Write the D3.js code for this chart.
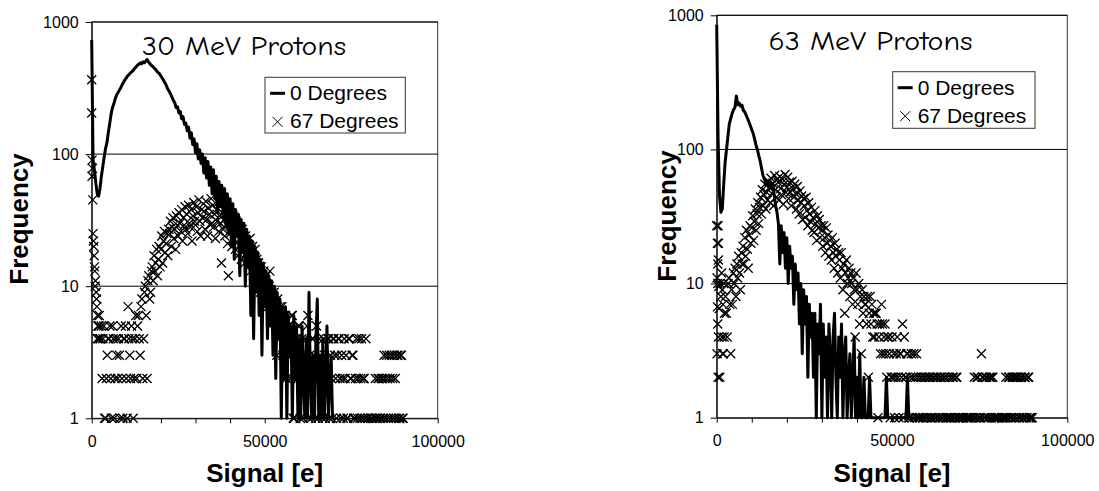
<!DOCTYPE html>
<meta charset="utf-8">
<script src="https://d3js.org/d3.v7.min.js"></script>
<style>
  body { margin: 0; background: #fff; }
  text { font-family: Arial, "Liberation Sans", sans-serif; fill: #000; }
</style>
<div id="chart"></div>
<script>
  // ---- data ----
  var titles = ["30 MeV Protons", "63 MeV Protons"]
  var seriesNames = ["0 Degrees", "67 Degrees"]
  var xTicks = [0, 10000, 20000, 30000, 40000, 50000, 60000, 70000, 80000, 90000, 100000]
  var xTickLabels = [0, 50000, 100000]
  var yTicks = [1, 10, 100, 1000]

  var lineBin = 400      // signal width of one bin, 0 Degrees
  var scatBin = 250      // signal width of one bin, 67 Degrees
  var scatStart = 2500   // first binned 67 Degrees point

  // 0 Degrees, 30 MeV (bins from 0)
  var line30 = [730,90,75,60,50,48,55,68,80,95,
    110,122,145,170,200,225,240,262,280,292,
    305,318,335,350,365,378,392,400,412,420,
    430,445,455,470,478,490,482,500,492,505,
    520,498,485,470,462,450,440,425,415,405,
    390,375,360,345,330,310,300,285,270,255,
    245,225,228,205,210,185,192,168,172,150,
    160,132,145,118,130,102,120,92,108,85,
    100,72,94,66,88,58,80,50,76,46,
    68,36,62,40,58,33,55,28,50,25,
    46,20,42,16,38,24,35,12,32,18,
    30,10,27,14,24,6,22,4,20,9,
    18,6,16,3,15,7,13,4,12,5,
    11,3,10,2,9,4,8,1,7,2,
    7,1,6,3,5,1,6,2,5,1,
    4,1,5,2,1,4,1,9,2,1,
    3,1,4,8,1,3,1,4,1,2,
    5,1,2,3,1]

  // 0 Degrees, 63 MeV (bins from 0)
  var line63 = [850,120,45,34,36,55,80,100,125,155,
    170,185,198,205,250,215,222,210,214,196,
    190,180,170,160,150,140,132,120,108,100,
    90,82,72,64,60,56,58,54,57,52,
    55,46,38,34,28,14,27,17,24,13,
    22,10,19,13,16,7,14,9,12,5,
    10,3,9,5,8,2,7,4,6,2,
    6,1,5,3,7,1,5,2,4,1,
    5,3,1,4,6,2,1,4,2,5,
    1,3,4,1,2,3,1,2,4,1,
    2,1,3,1,1,2,1,1,1,2,
    1,1,1,1,1,1,1,1,1,1,
    1,2,1,1,1,1,1,1,1,1,
    1,1,1,1,1,1,2,1,1]

  // 67 Degrees, points next to zero signal [signal, frequency]
  var head30 = [[0,365],[0,205],[100,90],[200,78],[100,68],[300,45],[400,25],[500,22],[600,20],
    [700,17],[800,14],[900,13],[1000,10],[1100,11],[1300,9],[1400,8],[1500,7],[1700,6],
    [1800,5],[2000,5],[2200,6],[2400,4],[1600,4],[1900,4],[2100,5]]
  var head63 = [[0,27],[200,20],[400,27],[500,20],[300,14],[500,15],[100,11],[300,10],[600,9.5],
    [200,6.7],[700,6.5],[300,5],[500,4],[100,3],[400,2],[900,2],[1000,10],[1200,8],[1400,12],
    [1600,9],[1800,7],[2000,10],[2200,6],[1500,4],[1900,3],[2100,4],[1700,3]]

  // 67 Degrees, binned from scatStart (0 = empty bin)
  var scat30 = [4,5,2,4,5,1,1,2,3,4,
    4,5,2,1,5,4,1,2,4,3,
    2,4,3,1,5,2,1,4,4,5,
    2,1,7,4,3,2,5,4,1,2,
    4,6,2,5,6,4,3,7,8,2,
    4,9,10,6,2,11,12,8,9,13,
    14,11,17,13,15,19,12,16,20,14,
    19,24,15,22,26,18,21,25,17,27,
    25,31,20,28,33,23,27,19,34,29,
    24,36,30,26,38,22,33,29,40,27,
    35,25,41,30,28,38,22,34,43,31,
    29,40,26,36,45,31,24,38,33,42,
    37,27,44,32,24,39,35,29,46,30,
    41,28,35,23,38,31,43,26,34,30,
    15,36,27,32,24,39,29,21,12,33,
    25,30,20,34,23,27,19,31,24,17,
    26,20,23,16,27,19,22,15,24,18,
    21,14,18,23,13,17,20,12,16,19,
    12,16,10,15,13,9,14,11,8,13,
    11,8,12,9,7,10,13,6,9,8,
    6,9,7,5,3,8,6,4,7,5,
    7,3,4,6,6,2,3,5,5,3,
    2,6,6,1,1,3,4,2,2,5,
    5,1,3,4,1,2,4,3,2,5,
    6,1,3,2,1,4,4,3,2,1,
    5,2,1,4,3,2,2,1,4,3,
    1,2,2,4,4,1,3,2,1,4,
    4,3,2,1,3,4,4,2,1,3,
    2,1,4,2,3,1,1,4,4,2,
    2,3,3,1,1,2,4,1,2,4,
    1,2,4,1,2,2,1,4,0,1,
    1,0,0,1,1,0,0,1,2,1,
    1,2,2,1,1,2,2,1,3,2,
    1,3,2,1,3,2,1,3,2,1,
    3,2,1,3,3,1,1,3,3,1,
    1]
  var scat63 = [8,6,4,10,11,7,3,9,7,12,
    10,13,8,14,11,16,12,9,17,14,
    19,14,22,16,25,18,13,23,27,20,
    26,32,21,29,36,25,33,40,28,37,
    44,33,50,38,46,55,36,48,42,58,
    52,40,61,47,56,38,64,50,44,60,
    57,42,63,51,46,60,39,55,65,48,
    52,62,43,57,48,38,58,51,44,55,
    47,36,53,42,33,49,40,45,30,43,
    38,31,44,35,27,40,33,29,37,25,
    31,24,35,28,21,32,26,30,22,27,
    25,19,27,22,17,26,20,23,16,21,
    19,15,22,17,13,20,16,18,12,17,
    15,11,17,13,9,14,6,12,15,10,
    11,13,8,12,10,7,11,9,4,12,
    9,7,10,5,8,3,9,6,8,7,
    7,5,8,2,6,8,5,7,4,6,
    4,6,6,5,1,4,5,3,7,5,
    3,4,5,3,2,4,4,3,1,2,
    4,2,3,1,2,3,4,2,1,3,
    3,2,5,1,4,2,2,3,3,1,
    1,2,3,1,2,3,1,2,3,1,
    2,1,1,2,2,1,1,2,2,1,
    1,2,2,1,2,1,1,2,2,1,
    1,2,2,1,1,2,2,1,1,2,
    2,1,1,2,1,1,2,1,1,2,
    2,1,1,2,2,1,1,1,1,0,
    1,1,1,0,0,1,1,0,1,1,
    1,0,0,1,2,1,1,2,2,1,
    1,1,3,2,2,1,1,2,2,1,
    1,2,2,1,2,2,1,1,1,0,
    1,1,1,0,0,1,1,0,1,1,
    2,1,1,2,2,1,1,2,2,1,
    2,2,1,2,2,1,1,2,2,1,
    1,2,2,1,1,2,2,1,1,1,
    1]

  // ---- layout ----
  var panels = [
    {title: titles[0], line: line30, head: head30, scat: scat30,
     left: 91.7, right: 437.7, top: 22, bottom: 418.3,
     yLabelX: 28, yLabelY: 219, titleX: 244, titleY: 55,
     legend: {x: 265, y: 77.3, w: 140.3, h: 55.7}},
    {title: titles[1], line: line63, head: head63, scat: scat63,
     left: 716.7, right: 1067.3, top: 15.3, bottom: 417.7,
     yLabelX: 676, yLabelY: 216, titleX: 870.5, titleY: 50,
     legend: {x: 892.7, y: 71.7, w: 142.3, h: 56.6}}
  ]

  var svg = d3.select("#chart")
    .append("svg")
      .attr("width", 1099)
      .attr("height", 491)

  var cross = "M-4.5,-4.5L4.5,4.5M-4.5,4.5L4.5,-4.5"

  panels.forEach(function(p) {
    var x = d3.scaleLinear().domain([0, 100000]).range([p.left, p.right])
    var y = d3.scaleLog().domain([1, 1000]).range([p.bottom, p.top])
    var g = svg.append("g")

    // plot area frame
    g.append("rect")
      .attr("x", p.left).attr("y", p.top)
      .attr("width", p.right - p.left).attr("height", p.bottom - p.top)
      .attr("fill", "none").attr("stroke", "#333").attr("stroke-width", 1)

    // horizontal gridlines
    g.selectAll("grid")
      .data(yTicks.slice(1))
      .enter()
      .append("line")
        .attr("x1", p.left).attr("x2", p.right)
        .attr("y1", function(d) { return y(d) }).attr("y2", function(d) { return y(d) })
        .attr("stroke", "#000").attr("stroke-width", 1)

    // 67 Degrees markers
    var pts = p.head.concat(p.scat.map(function(v, i) { return [scatStart + i * scatBin, v] }))
      .filter(function(d) { return d[1] > 0 })
    g.selectAll("pts")
      .data(pts)
      .enter()
      .append("path")
        .attr("d", cross)
        .attr("transform", function(d) { return "translate(" + x(d[0]) + "," + y(d[1]) + ")" })
        .attr("fill", "none").attr("stroke", "#000").attr("stroke-width", 1.3)

    // 0 Degrees line
    var line = d3.line()
      .x(function(d, i) { return x(i * lineBin) })
      .y(function(d) { return y(Math.max(1, d)) })
    g.append("path")
      .datum(p.line)
      .attr("d", line)
      .attr("fill", "none").attr("stroke", "#000")
      .attr("stroke-width", 3).attr("stroke-linejoin", "round")

    // axes
    var xa = g.append("g")
      .attr("transform", "translate(0," + p.bottom + ")")
      .call(d3.axisBottom(x).tickValues(xTicks).tickSize(5).tickSizeOuter(0).tickPadding(12)
        .tickFormat(function(d) { return xTickLabels.indexOf(d) >= 0 ? d : "" }))
    var ya = g.append("g")
      .attr("transform", "translate(" + p.left + ",0)")
      .call(d3.axisLeft(y).tickValues(yTicks).tickSize(6).tickSizeOuter(0).tickPadding(7)
        .tickFormat(d3.format("d")))
    ;[xa, ya].forEach(function(a) {
      a.attr("font-size", 16).attr("font-family", "Arial, 'Liberation Sans', sans-serif")
      a.selectAll("path, line").attr("stroke", "#000")
      a.selectAll("text").attr("fill", "#000")
    })

    // axis titles
    g.append("text")
      .attr("x", (p.left + p.right) / 2).attr("y", 482)
      .attr("text-anchor", "middle")
      .style("font-size", "26px").style("font-weight", "bold")
      .text("Signal [e]")
    g.append("text")
      .attr("transform", "translate(" + p.yLabelX + "," + p.yLabelY + ") rotate(-90)")
      .attr("text-anchor", "middle")
      .style("font-size", "26px").style("font-weight", "bold")
      .text("Frequency")

    // panel title
    g.append("text")
      .attr("x", p.titleX).attr("y", p.titleY)
      .attr("text-anchor", "middle")
      .attr("textLength", 204).attr("lengthAdjust", "spacingAndGlyphs")
      .style("font-family", "'Comic Sans MS', 'Comic Neue', 'Open Sans', sans-serif")
      .style("font-size", "26px")
      .text(p.title)

    // legend
    var L = p.legend
    g.append("rect")
      .attr("x", L.x).attr("y", L.y).attr("width", L.w).attr("height", L.h)
      .attr("fill", "#fff").attr("stroke", "#333").attr("stroke-width", 1)
    g.append("line")
      .attr("x1", L.x + 5).attr("x2", L.x + 20)
      .attr("y1", L.y + 16).attr("y2", L.y + 16)
      .attr("stroke", "#000").attr("stroke-width", 3)
    g.append("path")
      .attr("d", "M-5,-5L5,5M-5,5L5,-5")
      .attr("transform", "translate(" + (L.x + 12.5) + "," + (L.y + 44.5) + ")")
      .attr("fill", "none").attr("stroke", "#000").attr("stroke-width", 1)
    g.selectAll("legtext")
      .data(seriesNames)
      .enter()
      .append("text")
        .attr("x", L.x + 25)
        .attr("y", function(d, i) { return L.y + (i == 0 ? 23 : 51) })
        .style("font-size", "21px")
        .text(function(d) { return d })
  })
</script>
